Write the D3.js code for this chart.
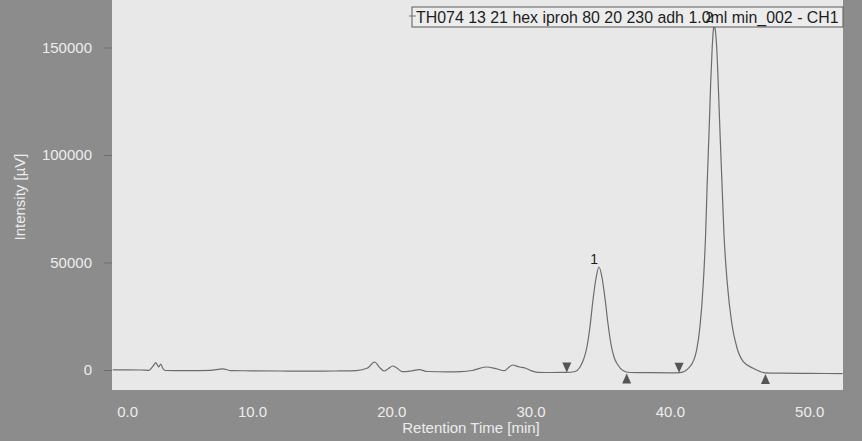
<!DOCTYPE html>
<html>
<head>
<meta charset="utf-8">
<script src="https://cdn.jsdelivr.net/npm/d3@7"></script>
<style>
  html, body { margin: 0; padding: 0; background: #8c8c8c; }
  svg { display: block; }
</style>
</head>
<body>
<svg id="chart" width="862" height="441"></svg>
<script>
// Chromatogram trace, channel CH1
const retentionTime = [
  0.0, 1.0, 2.0, 2.6, 2.9, 3.1, 3.3, 3.45, 3.6, 3.8,
  5.0, 6.0, 7.0, 7.9, 8.5, 10.0, 12.0, 14.0, 16.0, 17.5,
  18.3, 18.8, 19.2, 19.5, 19.8, 20.1, 20.4, 20.8, 21.4, 22.0,
  22.6, 24.0, 25.0, 25.8, 26.8, 27.6, 28.1, 28.7, 29.2, 29.6,
  30.0, 30.5, 31.5, 32.6, 33.19, 33.55, 33.84, 34.06, 34.27, 34.48,
  34.70, 34.91, 35.12, 35.34, 35.56, 35.77, 35.99, 36.27, 36.63, 37.13,
  38.5, 40.0, 40.73, 41.44, 41.92, 42.16, 42.40, 42.57, 42.68, 42.81,
  42.93, 43.04, 43.12, 43.19, 43.26, 43.36, 43.47, 43.60, 43.74, 43.88,
  44.12, 44.44, 44.80, 45.27, 45.99, 46.83, 48.0, 50.0, 52.4
];
const intensity = [
  100, 100, 0, -140, 1860, 3400, 1400, 2800, 700, -230,
  -330, -280, -190, 560, -280, -370, -470, -560, -470, -280,
  930, 3720, 930, -470, 700, 1860, 930, -790, -470, 140,
  -700, -840, -740, -230, 1400, 470, -330, 2330, 1400, 930,
  -230, -1070, -1160, -1120, -700, 1400, 5580, 11160, 20470, 32560,
  42790, 47910, 43260, 33490, 21400, 12090, 6050, 2330, -230, -1160,
  -1260, -1300, -1210, 1530, 9300, 20140, 40470, 63720, 86980, 110230,
  133490, 150230, 158140, 160470, 158140, 150230, 133490, 110230, 86980, 63720,
  40470, 21860, 10700, 3860, 790, -1300, -1490, -1580, -1670
];

// Integrated peaks: names, start / end of integration
const peakNames = ["1", "2"];
const peakStart = [32.6, 40.66];
const peakEnd = [36.9, 46.86];
const peakStartLevel = [-1120, -1250];
const peakEndLevel = [-1160, -1400];

const xTicks = [0, 10, 20, 30, 40, 50];
const yTicks = [0, 50000, 100000, 150000];

const chartTitle = "TH074 13 21 hex iproh 80 20 230 adh 1.0ml min_002 - CH1";
const xTitle = "Retention Time [min]";
const yTitle = "Intensity [\u00b5V]";

const svg = d3.select("#chart");
const W = 862, H = 441;
const plot = { left: 112, top: 0, right: 843, bottom: 390 };

const x = d3.scaleLinear().domain([0, 52.4]).range([112.7, 842.6]);
const y = d3.scaleLinear().domain([-9300, 172100]).range([plot.bottom, plot.top]);

// frame and plot background
svg.append("rect").attr("width", W).attr("height", H).attr("fill", "#8c8c8c");
svg.append("rect")
  .attr("x", plot.left).attr("y", plot.top)
  .attr("width", plot.right - plot.left).attr("height", plot.bottom - plot.top)
  .attr("fill", "#e8e8e8");

const font = "'Liberation Sans', Arial, sans-serif";

// y axis
const yAxis = d3.axisLeft(y).tickValues(yTicks).tickSize(8).tickPadding(12)
  .tickFormat(d3.format("d"));
const gy = svg.append("g").attr("transform", `translate(${plot.left},0)`).call(yAxis);
gy.select(".domain").remove();
gy.selectAll(".tick line").attr("stroke", "#6e6e6e").attr("stroke-width", 1);
gy.selectAll(".tick text")
  .attr("fill", "#ececec").style("font-family", font).style("font-size", "15px");

// x axis (labels only)
const xAxis = d3.axisBottom(x).tickValues(xTicks).tickSize(0).tickPadding(16)
  .tickFormat(d3.format(".1f"));
const gx = svg.append("g").attr("transform", `translate(0,${plot.bottom})`).call(xAxis);
gx.select(".domain").remove();
gx.selectAll(".tick text")
  .attr("fill", "#ececec").style("font-family", font).style("font-size", "15px");
gx.selectAll(".tick").filter(d => d === 0).select("text")
  .attr("text-anchor", "start").attr("x", 4);

// axis titles
svg.append("text")
  .attr("x", 471).attr("y", 433)
  .attr("text-anchor", "middle")
  .attr("fill", "#ececec").style("font-family", font).style("font-size", "15px")
  .text(xTitle);
svg.append("text")
  .attr("transform", "translate(25,197) rotate(-90)")
  .attr("text-anchor", "middle")
  .attr("fill", "#ececec").style("font-family", font).style("font-size", "15px")
  .text(yTitle);

// trace
const points = retentionTime.map((t, i) => [t, intensity[i]]);
const line = d3.line().x(d => x(d[0])).y(d => y(d[1])).curve(d3.curveMonotoneX);
svg.append("path")
  .datum(points)
  .attr("d", line)
  .attr("fill", "none")
  .attr("stroke", "#6c6c6c")
  .attr("stroke-width", 1.2);

// integration markers
const tri = 9, triH = 10;
peakStart.forEach((t, i) => {
  const px = x(t), py = y(peakStartLevel[i]);
  svg.append("path")
    .attr("d", `M${px - tri / 2},${py - triH}L${px + tri / 2},${py - triH}L${px},${py}Z`)
    .attr("fill", "#555");
});
peakEnd.forEach((t, i) => {
  const px = x(t), py = y(peakEndLevel[i]) + 1;
  svg.append("path")
    .attr("d", `M${px - tri / 2},${py + triH}L${px + tri / 2},${py + triH}L${px},${py}Z`)
    .attr("fill", "#555");
});

// title box
const box = { x: 412, y: 7, w: plot.right - 412, h: 20 };
svg.append("rect")
  .attr("x", box.x).attr("y", box.y).attr("width", box.w).attr("height", box.h)
  .attr("fill", "#ececec").attr("stroke", "#5a5a5a").attr("stroke-width", 1);
svg.append("line")
  .attr("x1", box.x - 3).attr("x2", box.x + 4)
  .attr("y1", box.y + 9).attr("y2", box.y + 9)
  .attr("stroke", "#777").attr("stroke-width", 1);
const title = svg.append("text")
  .attr("x", 416).attr("y", 23)
  .attr("fill", "#1e1e1e").style("font-family", font).style("font-size", "16px")
  .text(chartTitle);
const tw = title.node().getComputedTextLength();
title.style("font-size", (16 * 423 / tw).toFixed(2) + "px");

// peak labels at apex of each integrated peak
peakNames.forEach((name, i) => {
  let best = null;
  points.forEach(p => {
    if (p[0] >= peakStart[i] && p[0] <= peakEnd[i] && (!best || p[1] > best[1])) best = p;
  });
  svg.append("text")
    .attr("x", x(best[0]) - 1).attr("y", y(best[1]) - 3)
    .attr("text-anchor", "end")
    .attr("fill", "#1e1e1e").style("font-family", font).style("font-size", "14px")
    .text(name);
});
</script>
</body>
</html>
